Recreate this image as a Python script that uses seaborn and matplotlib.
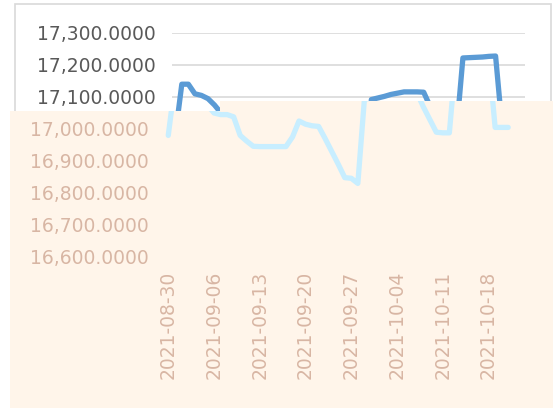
import matplotlib
matplotlib.use("Agg")
import matplotlib.pyplot as plt
import matplotlib.dates as mdates
from matplotlib.patches import Rectangle, Polygon
from matplotlib.ticker import FuncFormatter
import pandas as pd
import seaborn as sns

# ---------------- data ----------------
start_date = "2021-08-30"
end_date = "2021-10-21"
price = [16980, 17140, 17140, 17110, 17105, 17095, 17075, 17050, 17045, 17045,
         17038, 16980, 16962, 16946, 16945, 16945, 16945, 16945, 16945, 16975,
         17025, 17015, 17010, 17008, 16970, 16930, 16890, 16848, 16846, 16830,
         17092, 17097, 17102, 17108, 17112, 17116, 17116, 17116, 17115, 17070,
         17030, 16990, 16988, 16988, 17222, 17223, 17224, 17225, 17227, 17228,
         17005, 17005, 17005]
y_ticks_upper = [17100, 17200, 17300]
y_ticks_lower = [16600, 16700, 16800, 16900, 17000]
y_grid = [16600, 16700, 16800, 16900, 17000, 17100, 17200, 17300]

df = pd.DataFrame({"date": pd.date_range(start_date, end_date, freq="D"),
                   "price": price})

# ---------------- style ----------------
sns.set_style("white")
plt.rcParams["font.family"] = ["DejaVu Sans"]

W, H = 553, 408
fig = plt.figure(figsize=(W / 100, H / 100), dpi=100)
fig.patch.set_facecolor("white")

DARK = "#5B9BD5"
LIGHT = "#C8EEFF"
PEACH = "#FFF5EA"
TAN = "#D8B6A4"
GRAY_TXT = "#595959"
GRID = "#D9D9D9"

xmin = pd.Timestamp("2021-08-29 12:00")
xmax = pd.Timestamp("2021-10-22 12:00")

def px_rect(left, top, right, bottom):
    return [left / W, (H - bottom) / H, (right - left) / W, (bottom - top) / H]

def px_pts(pts):
    return [(x / W, (H - y) / H) for x, y in pts]

def fmt_num(v):
    return f"{v:,.4f}"

# outer chart border
border = Rectangle((15 / W, 0), (551 - 15) / W, (H - 4) / H, transform=fig.transFigure,
                   facecolor="none", edgecolor=GRID, linewidth=1.2, zorder=0.5)
fig.add_artist(border)

# ---------- upper (dark) chart ----------
ax_top = fig.add_axes(px_rect(172, 33, 525, 257))
ax_top.set_zorder(1)
ax_top.patch.set_alpha(0)
sns.lineplot(data=df, x="date", y="price", ax=ax_top, color=DARK, linewidth=3.8,
             solid_joinstyle="round", solid_capstyle="round")
ax_top.set_xlim(xmin, xmax)
ax_top.set_ylim(16600, 17300)
ax_top.set_yticks(y_grid, labels=[fmt_num(v) if v in y_ticks_upper else "" for v in y_grid])
ax_top.grid(axis="y", color=GRID, linewidth=1.2)
ax_top.set_axisbelow(True)
ax_top.set_xticks([])
ax_top.set_xlabel("")
ax_top.set_ylabel("")
ax_top.tick_params(axis="y", length=0, pad=12, labelsize=13.5, labelcolor=GRAY_TXT)
for s in ax_top.spines.values():
    s.set_visible(False)

# ---------- peach overlay ----------
peach_pts = px_pts([(10, H), (10, 111), (220, 111), (220, 101), (W, 101), (W, H)])
peach = Polygon(peach_pts, closed=True, transform=fig.transFigure,
                facecolor=PEACH, edgecolor="none", zorder=2)
fig.add_artist(peach)
clip = Polygon(peach_pts, closed=True, transform=fig.transFigure,
               facecolor="none", edgecolor="none")

# ---------- lower (light) chart ----------
ax_bot = fig.add_axes(px_rect(165, 33, 518, 257))
ax_bot.set_zorder(3)
ax_bot.patch.set_alpha(0)
sns.lineplot(data=df, x="date", y="price", ax=ax_bot, color=LIGHT, linewidth=3.8,
             solid_joinstyle="round", solid_capstyle="round")
ax_bot.lines[-1].set_clip_path(clip)
ax_bot.set_xlim(xmin, xmax)
ax_bot.set_ylim(16600, 17300)
ax_bot.set_yticks(y_ticks_lower, labels=[fmt_num(v) for v in y_ticks_lower])
ax_bot.xaxis.set_major_locator(mdates.WeekdayLocator(byweekday=mdates.MO))
ax_bot.xaxis.set_major_formatter(mdates.DateFormatter("%Y-%m-%d"))
ax_bot.set_xlabel("")
ax_bot.set_ylabel("")
ax_bot.grid(False)
ax_bot.tick_params(axis="y", length=0, pad=12, labelsize=13.5, labelcolor=TAN)
ax_bot.tick_params(axis="x", length=0, pad=10, labelsize=13.5, labelcolor=TAN,
                   labelrotation=90)
for s in ax_bot.spines.values():
    s.set_visible(False)

fig.savefig("out.png", dpi=100, facecolor="white")
